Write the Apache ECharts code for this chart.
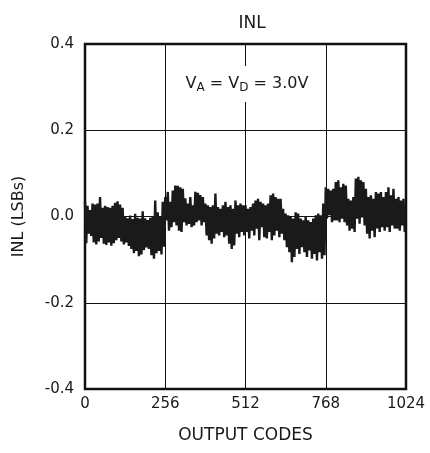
<!DOCTYPE html>
<html>
<head>
<meta charset="utf-8">
<script src="https://cdn.jsdelivr.net/npm/echarts@6/dist/echarts.min.js"></script>
<style>
html,body{margin:0;padding:0;background:#fff;}
#chart{width:430px;height:453px;}
</style>
</head>
<body>
<div id="chart"></div>
<script>
// Output code step between samples
var codeStep = 4;
// X-axis ticks (output codes)
var xTicks = [0, 256, 512, 768, 1024];
// Y-axis ticks (LSBs)
var yTicks = [-0.4, -0.2, 0.0, 0.2, 0.4];
// INL values, one every 4 codes
var inl = [
 0.034,-0.062, 0.025,-0.040, 0.015,-0.045, 0.030,-0.060,
 0.028,-0.065, 0.030,-0.058, 0.045,-0.050, 0.020,-0.063,
 0.025,-0.066, 0.022,-0.060, 0.020,-0.068, 0.025,-0.062,
 0.032,-0.055, 0.035,-0.050, 0.028,-0.058, 0.020,-0.065,
 0.000,-0.060, -0.004,-0.068, 0.002,-0.075, -0.006,-0.085,
 0.006,-0.080, -0.003,-0.092, -0.005,-0.088, 0.012,-0.078,
 -0.004,-0.072, -0.008,-0.075, -0.003,-0.090, 0.000,-0.098,
 0.037,-0.085, 0.010,-0.080, 0.000,-0.088, 0.034,-0.070,

 0.045,-0.009, 0.057,-0.033, 0.034,-0.025, 0.060,-0.013,
 0.072,-0.021, 0.071,-0.033, 0.068,-0.036, 0.064,-0.013,
 0.042,-0.021, 0.030,-0.017, 0.045,-0.025, 0.026,-0.021,
 0.057,-0.013, 0.055,-0.009, 0.050,-0.021, 0.045,-0.013,
 0.030,-0.044, 0.026,-0.055, 0.022,-0.063, 0.026,-0.051,
 0.053,-0.040, 0.022,-0.044, 0.018,-0.036, 0.026,-0.048,
 0.034,-0.044, 0.022,-0.063, 0.026,-0.075, 0.018,-0.067,
 0.037,-0.040, 0.026,-0.048, 0.030,-0.036, 0.026,-0.044,

 0.026,-0.036, 0.018,-0.051, 0.022,-0.033, 0.030,-0.044,
 0.037,-0.028, 0.041,-0.055, 0.034,-0.025, 0.030,-0.048,
 0.026,-0.051, 0.030,-0.036, 0.049,-0.055, 0.053,-0.044,
 0.045,-0.033, 0.041,-0.048, 0.041,-0.040, 0.018,-0.055,
 0.007,-0.071, 0.003,-0.083, 0.000,-0.106, -0.005,-0.094,
 0.010,-0.075, 0.007,-0.087, -0.005,-0.071, -0.009,-0.083,
 0.000,-0.094, -0.009,-0.079, -0.013,-0.098, -0.005,-0.087,
 0.003,-0.102, 0.007,-0.083, 0.003,-0.098, 0.030,-0.090,

 0.068,-0.005, 0.064,0.003, 0.060,-0.013, 0.064,-0.009,
 0.080,-0.009, 0.084,-0.013, 0.068,-0.005, 0.076,-0.013,
 0.072,-0.021, 0.041,-0.033, 0.037,-0.028, 0.045,-0.036,
 0.088,-0.005, 0.092,-0.017, 0.084,-0.002, 0.080,-0.021,
 0.064,-0.040, 0.045,-0.051, 0.049,-0.033, 0.041,-0.048,
 0.057,-0.028, 0.053,-0.036, 0.057,-0.025, 0.045,-0.033,
 0.057,-0.025, 0.068,-0.036, 0.049,-0.021, 0.064,-0.028,
 0.041,-0.028, 0.045,-0.033, 0.037,-0.021, 0.041,-0.036
];

var seriesData = inl.map(function (v, i) { return [i * codeStep, v]; });
var font = '"DejaVu Sans", "Liberation Sans", sans-serif';
var txt = '#1a1a1a';

var chart = echarts.init(document.getElementById('chart'), null, {renderer: 'canvas'});
chart.setOption({
  animation: false,
  backgroundColor: '#fff',
  title: {
    text: 'INL',
    left: 247,
    top: 10,
    textAlign: 'center',
    textStyle: {fontFamily: font, fontSize: 17, fontWeight: 'normal', color: txt}
  },
  grid: {
    left: 85, right: 24, top: 44, bottom: 64,
    show: true, borderColor: '#111', borderWidth: 2.5, backgroundColor: 'transparent'
  },
  xAxis: {
    type: 'value',
    min: xTicks[0], max: xTicks[xTicks.length - 1], interval: xTicks[1] - xTicks[0],
    name: 'OUTPUT CODES',
    nameLocation: 'middle',
    nameGap: 38,
    nameTextStyle: {fontFamily: font, fontSize: 17, color: txt},
    axisLine: {show: false},
    axisTick: {show: false},
    axisLabel: {
      fontFamily: font, fontSize: 15, color: txt, margin: 8,
      formatter: function (v) { return String(v); }
    },
    splitLine: {show: true, lineStyle: {color: '#111', width: 1}}
  },
  yAxis: {
    type: 'value',
    min: yTicks[0], max: yTicks[yTicks.length - 1], interval: 0.2,
    name: 'INL (LSBs)',
    nameLocation: 'middle',
    nameGap: 58,
    nameTextStyle: {fontFamily: font, fontSize: 16, color: txt},
    axisLine: {show: false},
    axisTick: {show: false},
    axisLabel: {
      fontFamily: font, fontSize: 15, color: txt, margin: 11,
      formatter: function (v) { return v.toFixed(1); }
    },
    splitLine: {show: true, lineStyle: {color: '#111', width: 1}}
  },
  series: [{
    type: 'line',
    data: seriesData,
    showSymbol: false,
    symbol: 'none',
    lineStyle: {color: '#1a1a1a', width: 2.4, join: 'miter'},
    z: 3
  }],
  graphic: [{
    type: 'text',
    z: 100,
    x: 247, y: 84,
    style: {
      x: 0, y: 0,
      text: '{n|V}{s|A}{n| = V}{s|D}{n| = 3.0V}',
      align: 'center',
      verticalAlign: 'middle',
      backgroundColor: '#fff',
      padding: [8, 6],
      fill: txt,
      rich: {
        n: {fontFamily: font, fontSize: 16, color: txt, lineHeight: 20, verticalAlign: 'middle'},
        s: {fontFamily: font, fontSize: 12, color: txt, lineHeight: 11, verticalAlign: 'bottom'}
      }
    }
  }]
});
</script>
</body>
</html>
